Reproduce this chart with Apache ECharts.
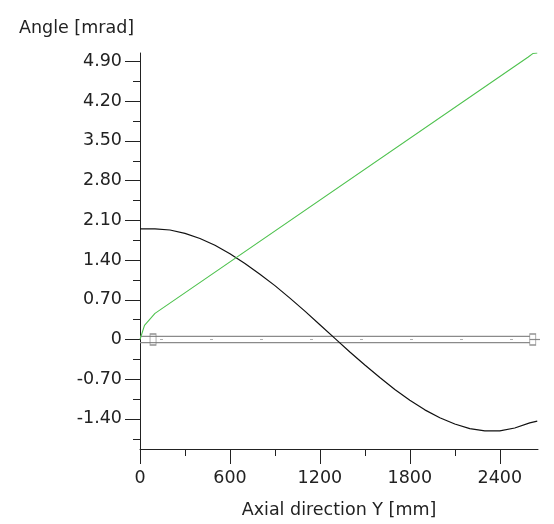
<!DOCTYPE html>
<html>
<head>
<meta charset="utf-8">
<script src="https://cdn.jsdelivr.net/npm/echarts@6/dist/echarts.min.js"></script>
<style>
html,body{margin:0;padding:0;background:#fff;}
#chart{width:554px;height:524px;}
</style>
</head>
<body>
<div id="chart"></div>
<script>
// ---- data ----
const xBlack = [0,100,200,300,400,500,600,700,800,900,1000,1100,1200,1300,1400,1500,1600,1700,1800,1900,2000,2100,2200,2300,2400,2500,2600,2650];
const yBlack = [1.95,1.95,1.93,1.87,1.78,1.66,1.51,1.34,1.15,0.95,0.73,0.50,0.26,0.02,-0.22,-0.45,-0.67,-0.88,-1.07,-1.24,-1.38,-1.49,-1.57,-1.61,-1.61,-1.56,-1.47,-1.44];
const xGreen = [0,30,100,2590,2620,2650];
const yGreen = [0,0.25,0.46,4.98,5.04,5.05];
const shaftX = [0,2600];
const shaftHalf = 0.055;
const zeroLineX = [2600,2760];
const bearingX = [87,2620];
const yTickValues = [-1.4,-0.7,0,0.7,1.4,2.1,2.8,3.5,4.2,4.9];
const yTickLabels = ["-1.40","-0.70","0","0.70","1.40","2.10","2.80","3.50","4.20","4.90"];
const yMinorValues = [-1.75,-1.05,-0.35,0.35,1.05,1.75,2.45,3.15,3.85,4.55];
const xTickValues = [0,600,1200,1800,2400];
const xTickLabels = ["0","600","1200","1800","2400"];
const xMinorValues = [300,900,1500,2100];
const yMin = -1.93, yMax = 5.05, xMin = 0, xMax = 2655;

const FONT = 'DejaVu Sans';
const TXT = '#222';
const fs = 17.5;

const chart = echarts.init(document.getElementById('chart'), null, {renderer:'canvas'});
const pairs = (xs, ys) => xs.map((x,i)=>[x, ys[i]]);

chart.setOption({
  animation:false,
  backgroundColor:'#fff',
  title:{text:'Angle [mrad]', left:14, top:14, textStyle:{fontFamily:FONT, fontSize:fs, fontWeight:'normal', color:TXT}},
  grid:{left:140, right:16, top:53, bottom:72, containLabel:false},
  xAxis:[{
    type:'value', min:xMin, max:xMax,
    name:'Axial direction Y [mm]', nameLocation:'middle', nameGap:52,
    nameTextStyle:{fontFamily:FONT, fontSize:fs, color:TXT},
    axisLine:{show:true, onZero:false, lineStyle:{color:'#222', width:1}},
    axisTick:{show:true, length:15, customValues:xTickValues, lineStyle:{color:'#222'}},
    axisLabel:{show:true, customValues:xTickValues, margin:20, fontFamily:FONT, fontSize:fs, color:TXT,
      formatter:(v)=>{const i=xTickValues.indexOf(v);return i>=0?xTickLabels[i]:'';}},
    splitLine:{show:false}
  },{
    type:'value', min:xMin, max:xMax, position:'bottom',
    axisLine:{show:false, onZero:false},
    axisTick:{show:true, length:7, customValues:xMinorValues, lineStyle:{color:'#222'}},
    axisLabel:{show:false},
    splitLine:{show:false}
  }],
  yAxis:[{
    type:'value', min:yMin, max:yMax,
    axisLine:{show:true, onZero:false, lineStyle:{color:'#222', width:1}},
    axisTick:{show:true, length:15, customValues:yTickValues, lineStyle:{color:'#222'}},
    axisLabel:{show:true, customValues:yTickValues, margin:18, fontFamily:FONT, fontSize:fs, color:TXT,
      formatter:(v)=>{let i=-1; yTickValues.forEach((t,k)=>{if(Math.abs(t-v)<1e-6)i=k;}); return i>=0?yTickLabels[i]:'';}},
    splitLine:{show:false}
  },{
    type:'value', min:yMin, max:yMax, position:'left',
    axisLine:{show:false, onZero:false},
    axisTick:{show:true, length:7, customValues:yMinorValues, lineStyle:{color:'#222'}},
    axisLabel:{show:false},
    splitLine:{show:false}
  }],
  series:[
    {type:'line', data:zeroLineX.map(x=>[x,0]), clip:false, symbol:'none', lineStyle:{color:'#8a8a8a', width:1.2}, z:1},
    {type:'line', data:shaftX.map(x=>[x,shaftHalf]), symbol:'none', lineStyle:{color:'#8a8a8a', width:1.3}, z:1},
    {type:'line', data:shaftX.map(x=>[x,-shaftHalf]), symbol:'none', lineStyle:{color:'#8a8a8a', width:1.3}, z:1},
    {type:'line', data:shaftX.map(x=>[x,0]), symbol:'none', lineStyle:{color:'#b0b0b0', width:1, type:[3,47], dashOffset:-20}, z:1},
    {type:'scatter', data:bearingX.map(x=>[x,0]), symbol:'rect', symbolSize:[6,11], clip:false,
      itemStyle:{color:'rgba(0,0,0,0)', borderColor:'#777', borderWidth:1}, z:2},
    {type:'line', data:pairs(xBlack,yBlack), symbol:'none', smooth:false, lineStyle:{color:'#111', width:1.2}, z:3},
    {type:'line', data:pairs(xGreen,yGreen), symbol:'none', lineStyle:{color:'#4fc24f', width:1.1}, z:4}
  ]
});
</script>
</body>
</html>
